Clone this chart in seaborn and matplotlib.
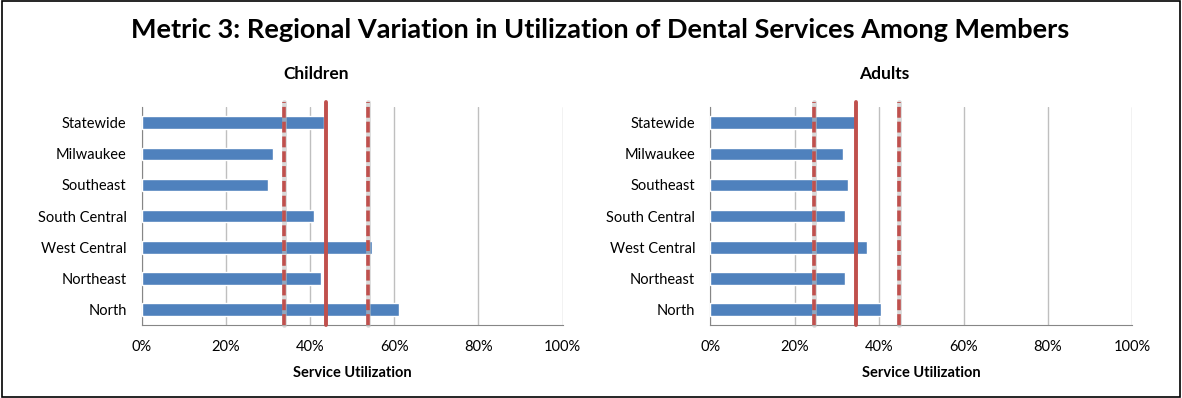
import matplotlib.pyplot as plt
import seaborn as sns
import pandas as pd
from matplotlib.ticker import PercentFormatter, FixedLocator
from matplotlib.patches import Rectangle

regions = ["Statewide", "Milwaukee", "Southeast", "South Central", "West Central", "Northeast", "North"]
children = [43.4, 31.1, 29.9, 40.8, 54.7, 42.6, 61.2]
adults = [34.3, 31.4, 32.5, 31.9, 37.1, 31.9, 40.4]
# statewide rate and the band around it (lower, mid, upper)
children_band = [33.7, 43.7, 53.7]
adults_band = [24.6, 34.6, 44.6]

sns.set_style("white")
plt.rcParams['font.family'] = ['Lato', 'DejaVu Sans']

BLUE = "#4F81BD"
RED = "#C0504D"
GRID = "#BFBFBF"

fig = plt.figure(figsize=(11.82, 3.98), dpi=100)
fig.patches.append(Rectangle((0.002, 0.003), 0.996, 0.994, transform=fig.transFigure,
                             fill=False, edgecolor="black", linewidth=1.2))
fig.suptitle("Metric 3: Regional Variation in Utilization of Dental Services Among Members",
             fontsize=19.5, fontweight="bold", color="black", x=0.508, y=0.955)

panels = [("Children", children, children_band, [0.120, 0.183, 0.356, 0.548]),
          ("Adults", adults, adults_band, [0.601, 0.183, 0.357, 0.548])]

for title, vals, band, rect in panels:
    ax = fig.add_axes(rect)
    df = pd.DataFrame({"Region": regions, "Util": vals})
    sns.barplot(data=df, x="Util", y="Region", order=regions, color=BLUE,
                width=0.4, saturation=1, ax=ax, zorder=3)
    ax.set_xlim(0, 100)
    ax.set_xticks(range(0, 101, 20))
    ax.xaxis.set_major_formatter(PercentFormatter(decimals=0))
    ax.grid(axis="x", color=GRID, linewidth=1, zorder=0)
    ax.set_axisbelow(True)
    for s in ["top", "right"]:
        ax.spines[s].set_visible(False)
    for s in ["left", "bottom"]:
        ax.spines[s].set_color("#868686")
    ax.yaxis.set_minor_locator(FixedLocator([i - 0.5 for i in range(len(regions) + 1)]))
    ax.tick_params(axis="y", which="major", length=0, pad=11, labelsize=10.5, labelcolor="black")
    ax.tick_params(axis="y", which="minor", length=4, color="#868686", direction="out")
    ax.tick_params(axis="x", length=4, color=GRID, labelsize=10.5, pad=7, labelcolor="black")
    ax.set_ylabel("")
    ax.set_xlabel("Service Utilization", fontsize=10.5, fontweight="bold", labelpad=8,
                  color="black")
    ax.set_title(title, fontsize=12.5, fontweight="bold", pad=20, x=0.413, color="black")
    lo, mid, hi = band
    ax.axvline(mid, ymin=0, ymax=1.025, color=RED, linewidth=2.8, clip_on=False, zorder=5)
    for v in (lo, hi):
        ax.axvline(v, ymin=0, ymax=1.025, color="#BFBFBF", alpha=0.6, linewidth=3.4,
                   clip_on=False, zorder=4)
        ax.axvline(v, ymin=0, ymax=1.025, color=RED, linewidth=2.6, linestyle=(0, (3, 1.1)),
                   clip_on=False, zorder=5)

fig.savefig("out.png", dpi=100)
